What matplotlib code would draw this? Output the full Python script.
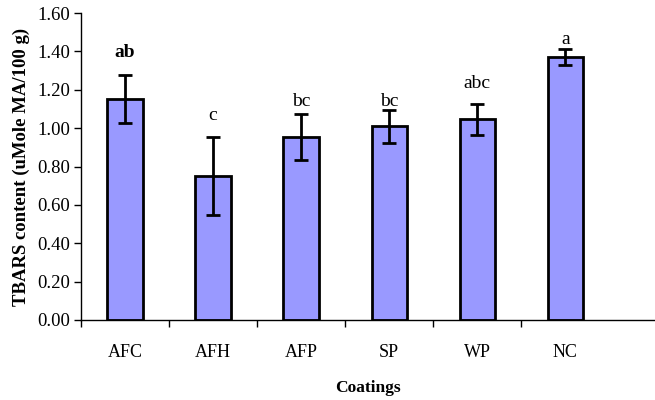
import matplotlib
matplotlib.use("Agg")
import matplotlib.pyplot as plt
import numpy as np

# Data
coatings = ["AFC", "AFH", "AFP", "SP", "WP", "NC"]
tbars = [1.15, 0.75, 0.955, 1.01, 1.045, 1.37]
errors = [0.125, 0.205, 0.12, 0.085, 0.08, 0.04]
letters = ["ab", "c", "bc", "bc", "abc", "a"]
letter_bold = [True, False, False, False, False, False]
letter_pad = [10, 9, 3, 0, 9, 1]  # points above error bar

plt.rcParams["font.family"] = ["Liberation Serif", "DejaVu Serif"]

fig = plt.figure(figsize=(6.55, 4.0), dpi=100)
ax = fig.add_axes([0.1237, 0.2, 0.8763, 0.7675])

x = np.arange(len(coatings))
ax.bar(x, tbars, width=0.4, color="#9999FF", edgecolor="black", linewidth=2, zorder=2)
ax.errorbar(x, tbars, yerr=errors, fmt="none", ecolor="black", elinewidth=2,
            capsize=5, capthick=2, zorder=3)

for xi, v, e, lab, b, pad in zip(x, tbars, errors, letters, letter_bold, letter_pad):
    ax.annotate(lab, (xi, v + e), xytext=(0, pad), textcoords="offset points",
                ha="center", va="bottom", fontsize=14,
                fontweight="bold" if b else "normal")

ax.set_xlim(-0.5, 6.02)
ax.set_ylim(0, 1.6)
ax.set_yticks(np.arange(0, 1.61, 0.2))
ax.set_yticklabels([f"{t:.2f}" for t in np.arange(0, 1.61, 0.2)], fontsize=13.5)
ax.set_xticks(x)
ax.set_xticklabels(coatings, fontsize=13)
ax.set_xticks(np.arange(-0.5, len(coatings) - 1, 1), minor=True)
ax.tick_params(axis="x", which="major", length=0, pad=17)
ax.tick_params(axis="x", which="minor", length=5, width=1, direction="out")
ax.tick_params(axis="y", length=5, width=1, direction="out", pad=3)

for s in ["top", "right"]:
    ax.spines[s].set_visible(False)
ax.spines["left"].set_linewidth(1)
ax.spines["bottom"].set_linewidth(1)

ax.set_xlabel("Coatings", fontsize=12.5, fontweight="bold", labelpad=14)
ax.set_ylabel("TBARS content (uMole MA/100 g)", fontsize=13.5, fontweight="bold", labelpad=5)

fig.savefig("out.png", dpi=100)
